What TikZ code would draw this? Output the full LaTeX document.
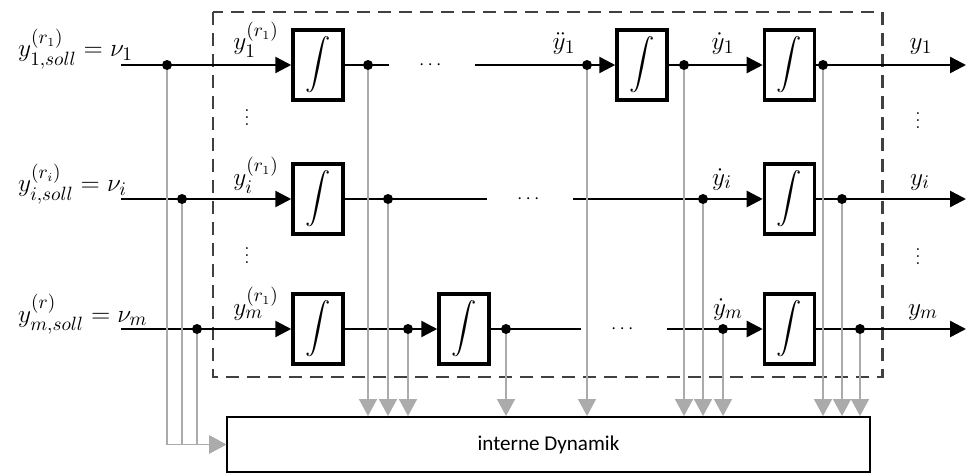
\documentclass[tikz,border=0pt]{standalone}
\usepackage{fontspec}
\newfontfamily\carlito{Carlito}
\usepackage{amsmath}
\usepackage{tikz}
\usetikzlibrary{positioning,arrows.meta}
\definecolor{sysgray}{HTML}{404040}
\definecolor{fbgray}{HTML}{ABABAB}

\begin{document}
\begin{tikzpicture}[x=0.02cm,y=-0.02cm,font=\fontsize{15}{18}\selectfont,
  intg/.style={draw,line width=2pt,minimum width=1cm,minimum height=1.4cm,
               inner sep=0pt,font=\fontsize{14}{16}\selectfont},
  branch/.style={circle,fill,inner sep=0pt,minimum size=0.2cm},
  hdots/.style={minimum width=1.7cm,inner sep=0pt,font=\fontsize{11}{13}\selectfont},
  vdts/.style={inner sep=0pt,font=\fontsize{11}{13}\selectfont},
  sig/.style={line width=1.4pt},
  arr/.style={sig,-{Triangle[length=0.32cm,width=0.32cm]}},
  fb/.style={fbgray,line width=0.85pt,-{Triangle[length=0.34cm,width=0.36cm]}},
  sys/.style={draw=sysgray,line width=1.7pt,dash pattern=on 0.26cm off 0.16cm},
  dyn/.style={draw,line width=1.1pt,minimum width=12.86cm,minimum height=1.1cm,
              font=\carlito\fontsize{12}{14}\selectfont}]
\useasboundingbox (0,0) rectangle (967,473);
% Systemgrenze
\draw[sys] (213,12) rectangle (882,377);
% Integratoren
\node[intg] (a1) at (318,65) {$\displaystyle\int$};
\node[intg] (a2) at (642,65) {$\displaystyle\int$};
\node[intg,right=1.88cm of a2] (a3) {$\displaystyle\int$};
\node[intg] (b1) at (318,199) {$\displaystyle\int$};
\node[intg] (b3) at (a3 |- b1) {$\displaystyle\int$};
\node[intg] (c1) at (318,329) {$\displaystyle\int$};
\node[intg] (c2) at (464,329) {$\displaystyle\int$};
\node[intg] (c3) at (a3 |- c1) {$\displaystyle\int$};
\node[dyn] (dyn) at (548.5,444.5) {interne Dynamik};
% Auslassungen
\node[hdots] (h1) at (432,65) {$\cdots$};
\node[hdots] (h2) at (530,199) {$\cdots$};
\node[hdots] (h3) at (624,329) {$\cdots$};
\node[vdts] (v1) at (247,112) {$\vdots$};
\node[vdts] (v2) at (247,250) {$\vdots$};
\node[vdts] (v3) at (918,115) {$\vdots$};
\node[vdts] (v4) at (918,251) {$\vdots$};
% Verzweigungen
\node[branch] (p11) at (167,65) {};
\node[branch] (p12) at (368,65) {};
\node[branch] (p13) at (587,65) {};
\node[branch] (p14) at (684,65) {};
\node[branch] (p15) at (823,65) {};
\node[branch] (p21) at (182,199) {};
\node[branch] (p22) at (388,199) {};
\node[branch] (p23) at (703,199) {};
\node[branch] (p24) at (842,199) {};
\node[branch] (p31) at (197,329) {};
\node[branch] (p32) at (408,329) {};
\node[branch] (p33) at (506,329) {};
\node[branch] (p34) at (723,329) {};
\node[branch] (p35) at (860,329) {};
% Ein- und Ausgaenge
\coordinate (in1) at (121,65);
\coordinate (in2) at (121,199);
\coordinate (in3) at (121,329);
\coordinate (out1) at (966,65);
\coordinate (out2) at (966,199);
\coordinate (out3) at (966,329);
% Beschriftungen
\node[anchor=base west] (l1) at (12,57) {$y^{(r_1)}_{1,soll} = \nu_1$};
\node[anchor=base west] (l2) at (12,192) {$y^{(r_i)}_{i,soll} = \nu_i$};
\node[anchor=base west] (l3) at (12,322) {$y^{(r)}_{m,soll} = \nu_m$};
\node[anchor=base] (e1) at (256,50) {$y_1^{(r_1)}$};
\node[anchor=base] (e2) at (256,185) {$y_i^{(r_1)}$};
\node[anchor=base] (e3) at (256,315) {$y_m^{(r_1)}$};
\node[anchor=base] (s1) at (564,50) {$\ddot{y}_1$};
\node[anchor=base] (s2) at (723,50) {$\dot{y}_1$};
\node[anchor=base] (s3) at (722,185) {$\dot{y}_i$};
\node[anchor=base] (s4) at (728,315) {$\dot{y}_m$};
\node[anchor=base] (o1) at (921,50) {$y_1$};
\node[anchor=base] (o2) at (920,185) {$y_i$};
\node[anchor=base] (o3) at (923,315) {$y_m$};
% Signale
\draw[arr] (in1) -- (a1);
\draw[sig] (a1) -- (h1);
\draw[arr] (h1) -- (a2);
\draw[arr] (a2) -- (a3);
\draw[arr] (a3) -- (out1);
\draw[arr] (in2) -- (b1);
\draw[sig] (b1) -- (h2);
\draw[arr] (h2) -- (b3);
\draw[arr] (b3) -- (out2);
\draw[arr] (in3) -- (c1);
\draw[arr] (c1) -- (c2);
\draw[sig] (c2) -- (h3);
\draw[arr] (h3) -- (c3);
\draw[arr] (c3) -- (out3);
% Rueckfuehrungen
\foreach \p in {p12,p22,p32,p33,p13,p14,p23,p34,p15,p24,p35}
  \draw[fb] (\p) -- (\p |- dyn.north);
\foreach \p in {p11,p21,p31}
  \draw[fb] (\p) |- (dyn.west);
\end{tikzpicture}
\end{document}
